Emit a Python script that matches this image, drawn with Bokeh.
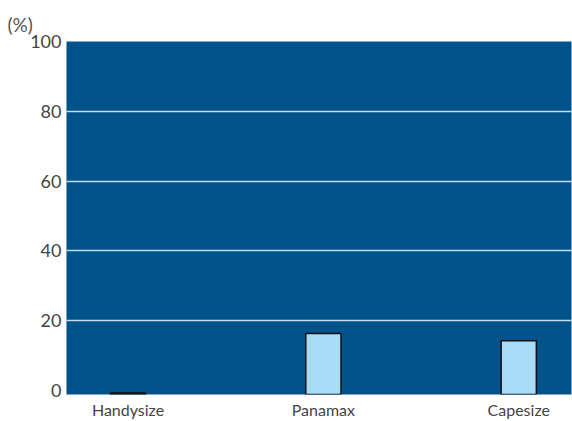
from bokeh.plotting import figure
from bokeh.models import Range1d, FixedTicker, ColumnDataSource
from bokeh.embed import file_html
from bokeh.resources import INLINE

categories = ["Handysize", "Panamax", "Capesize"]
shares = [-0.7, 16.4, 14.3]
y_ticks = [0, 20, 40, 60, 80, 100]

Y_START = -1.1
x_pos = list(range(len(categories)))

src = ColumnDataSource(dict(x=x_pos, top=shares, bottom=[Y_START] * len(shares)))

W, H = 572, 421
p = figure(width=W, height=H, output_backend="svg", toolbar_location=None,
           x_range=Range1d(-0.315, 2.27), y_range=Range1d(Y_START, 100),
           min_border_left=66, min_border_right=1, min_border_top=41, min_border_bottom=17)
p.background_fill_color = "#00538a"
p.outline_line_color = None
p.border_fill_color = "white"

p.title.text = "(%)"
p.title.align = "left"
p.title.offset = -59
p.title.text_font = "Lato"
p.title.text_font_style = "normal"
p.title.text_font_size = "19px"
p.title.text_color = "#555555"
p.title.standoff = 11

p.vbar(x="x", top="top", bottom="bottom", width=0.18, source=src,
       fill_color="#a9ddf7", line_color="#111111", line_width=1.5)

p.xgrid.grid_line_color = None
p.ygrid.grid_line_color = "#c9dcec"
p.ygrid.grid_line_width = 1.5
p.ygrid.ticker = FixedTicker(ticks=y_ticks[1:])

for ax in (p.xaxis, p.yaxis):
    ax.axis_line_color = None
    ax.major_tick_line_color = None
    ax.minor_tick_line_color = None
    ax.major_tick_out = 0
    ax.major_tick_in = 0
    ax.minor_tick_out = 0
    ax.minor_tick_in = 0
    ax.major_label_text_font = "Lato"
    ax.major_label_text_color = "#444444"

p.yaxis.ticker = FixedTicker(ticks=y_ticks)
p.yaxis.major_label_text_font_size = "18px"
p.yaxis.major_label_standoff = 5

p.xaxis.ticker = FixedTicker(ticks=x_pos)
p.xaxis.major_label_overrides = {i: c for i, c in enumerate(categories)}
p.xaxis.major_label_text_font_size = "16px"
p.xaxis.major_label_standoff = 5

open("out.html", "w").write(file_html(p, INLINE))
